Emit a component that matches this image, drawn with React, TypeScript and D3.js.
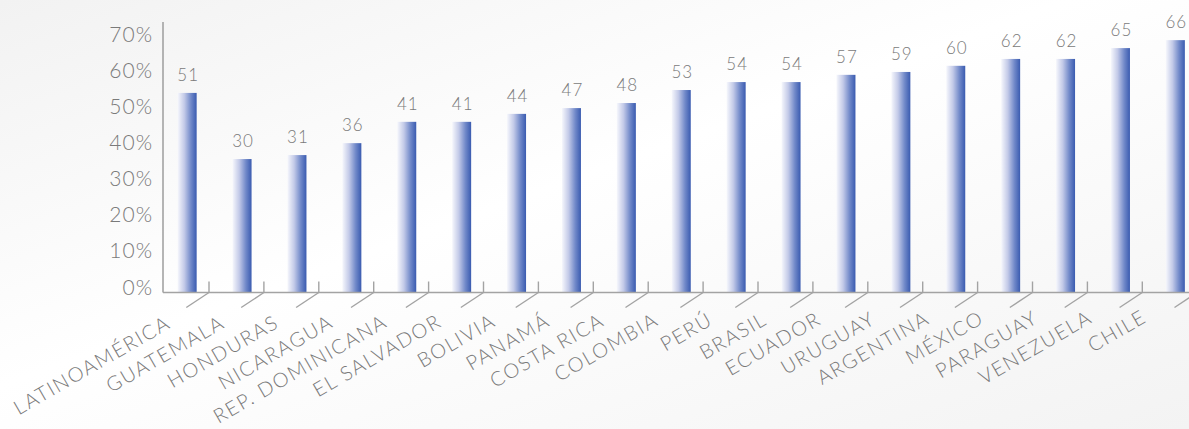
import React from "react";
import * as d3 from "d3";

const categories = [
  "LATINOAMÉRICA", "GUATEMALA", "HONDURAS", "NICARAGUA", "REP. DOMINICANA",
  "EL SALVADOR", "BOLIVIA", "PANAMÁ", "COSTA RICA", "COLOMBIA", "PERÚ",
  "BRASIL", "ECUADOR", "URUGUAY", "ARGENTINA", "MÉXICO", "PARAGUAY",
  "VENEZUELA", "CHILE",
];
// data labels printed above the bars
const labelValues = [51, 30, 31, 36, 41, 41, 44, 47, 48, 53, 54, 54, 57, 59, 60, 62, 62, 65, 66];
// bar heights as they read against the (3D perspective) percentage axis
const barLevels = [53.7, 35.4, 36.5, 39.8, 45.7, 45.7, 47.9, 49.5, 50.9, 54.5, 56.7, 56.7, 58.7, 59.5, 61.2, 63.1, 63.1, 66.1, 68.3];
const yTicks = [0, 10, 20, 30, 40, 50, 60, 70];

const W = 1189;
const H = 429;

export default function App() {
  const y = d3.scaleLinear().domain([0, 70]).range([287, 34]);
  const baseY = 292.5;
  const axisX = 163;
  // back-wall category bands (ticks at band boundaries)
  const x = d3.scaleBand<string>().domain(categories).range([154.1, 154.1 + 54.9 * categories.length]).padding(0);
  const barW = 19;
  const barShift = 5.6; // perspective shift of bars relative to band centre
  // front-edge label anchors
  const xLab = d3.scalePoint<string>().domain(categories).range([172, 1148]);
  const yLab = d3.scaleLinear().domain([0, categories.length - 1]).range([327, 321]);
  const depthDx = -22.7;
  const depthDy = 15;
  const textColor = "#7a7a7a";
  const axisColor = "#a3a3a3";
  const font = "Lato, 'Open Sans', sans-serif";

  return (
    <div style={{ position: "absolute", left: 0, top: 0 }}>
      <svg width={W} height={H} style={{ display: "block" }}>
        <defs>
          <linearGradient id="bg" x1="0" y1="0" x2="1" y2="1">
            <stop offset="0" stopColor="#f2f2f2" />
            <stop offset="0.45" stopColor="#ffffff" />
            <stop offset="1" stopColor="#f3f3f3" />
          </linearGradient>
          <linearGradient id="bar" x1="0" y1="0" x2="1" y2="0">
            <stop offset="0" stopColor="#f6f7fc" />
            <stop offset="0.35" stopColor="#c3cae8" />
            <stop offset="0.7" stopColor="#7189c9" />
            <stop offset="1" stopColor="#3a5bb0" />
          </linearGradient>
        </defs>
        <rect x={0} y={0} width={W} height={H} fill="url(#bg)" />

        {/* y axis */}
        <line x1={axisX} x2={axisX} y1={22} y2={baseY} stroke={axisColor} strokeWidth={1.6} />
        {yTicks.map((t) => (
          <text key={t} x={153} y={y(t)} dy="0.36em" textAnchor="end" fill={textColor}
            fontFamily={font} fontSize={21} fontWeight={300} letterSpacing={1}>
            {t}%
          </text>
        ))}

        {/* bars */}
        {categories.map((c, i) => {
          const cx = (x(c) as number) + x.bandwidth() / 2 + barShift;
          const top = y(barLevels[i]);
          return (
            <g key={c}>
              <rect x={cx - barW / 2} y={top} width={barW} height={baseY - top} fill="url(#bar)" />
              <text x={cx + 1} y={top - 12} textAnchor="middle" fill={textColor}
                fontFamily={font} fontSize={17} fontWeight={300} letterSpacing={1}>
                {labelValues[i]}
              </text>
            </g>
          );
        })}

        {/* x axis line */}
        <line x1={axisX} x2={W} y1={baseY} y2={baseY} stroke={axisColor} strokeWidth={1.6} />

        {/* category boundary ticks with floor-depth lines */}
        {categories.map((c) => {
          const tx = (x(c) as number) + x.step();
          return (
            <g key={"t" + c} stroke={axisColor} strokeWidth={1.4} fill="none">
              <line x1={tx} x2={tx} y1={281.5} y2={baseY} />
              <line x1={tx} x2={tx + depthDx} y1={baseY} y2={baseY + depthDy} />
            </g>
          );
        })}

        {/* category labels */}
        {categories.map((c, i) => {
          const lx = xLab(c) as number;
          const ly = yLab(i);
          return (
            <text key={"l" + c} x={lx} y={ly} textAnchor="end" fill={textColor}
              fontFamily={font} fontSize={20} fontWeight={300} letterSpacing={1.6}
              transform={`rotate(-30, ${lx}, ${ly})`}>
              {c}
            </text>
          );
        })}
      </svg>
    </div>
  );
}
